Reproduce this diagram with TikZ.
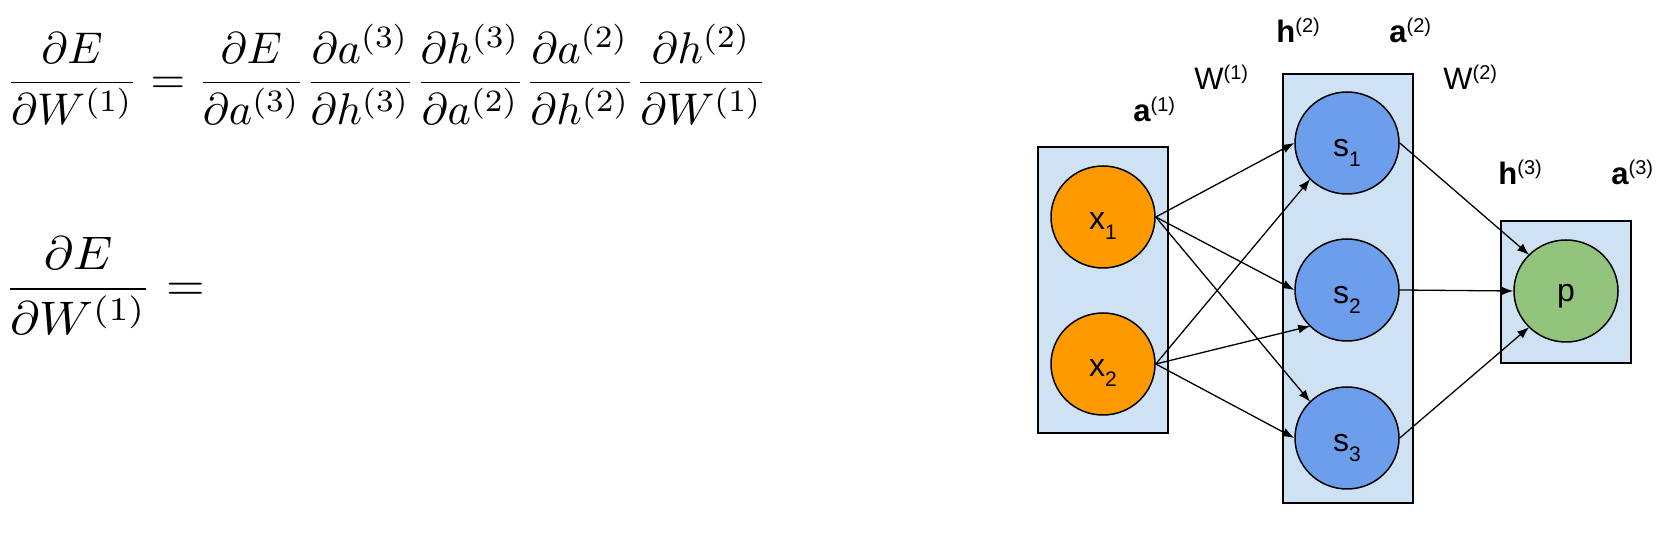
\documentclass[tikz,border=0pt]{standalone}
\usepackage{fontspec}
\newfontfamily\arialf{Liberation Sans}
\usetikzlibrary{shapes.geometric,arrows.meta,calc}
\definecolor{boxfill}{HTML}{CFE2F3}
\definecolor{inorange}{HTML}{FF9900}
\definecolor{hidblue}{HTML}{6D9EEB}
\definecolor{outgreen}{HTML}{93C47D}
\newcommand\lsup[1]{\raisebox{5pt}{\fontsize{10}{12}\selectfont #1}}
\newcommand\lsub[1]{\raisebox{-5pt}{\fontsize{10.5}{12}\selectfont #1}}
\newsavebox\eqtop
\newsavebox\eqbot
\begin{document}
\begin{tikzpicture}[x=0.5pt,y=-0.5pt,
  layerbox/.style={draw=black,line width=1pt,fill=boxfill,inner sep=0pt,minimum width=65pt},
  unit/.style={ellipse,draw=black,line width=0.75pt,minimum width=52pt,minimum height=51pt,inner sep=0pt},
  unitlabel/.style={anchor=base,inner sep=0pt,font=\arialf\fontsize{16}{19}\selectfont},
  layerlabel/.style={anchor=base west,inner sep=0pt,font=\arialf\fontsize{15.5}{18}\selectfont},
  conn/.style={line width=0.65pt,-{Latex[length=6pt,width=4.5pt]}},
  eq/.style={anchor=base west,inner sep=0pt}]
\useasboundingbox (0,0) rectangle (1665,533);
\sbox\eqtop{$\displaystyle \frac{\partial E}{\partial W^{(1)}} = \frac{\partial E}{\partial a^{(3)}}\frac{\partial a^{(3)}}{\partial h^{(3)}}\frac{\partial h^{(3)}}{\partial a^{(2)}}\frac{\partial a^{(2)}}{\partial h^{(2)}}\frac{\partial h^{(2)}}{\partial W^{(1)}}$}
\sbox\eqbot{$\displaystyle \frac{\partial E}{\partial W^{(1)}} =$}
\pgfmathsetmacro\eqsc{380.75/\the\wd\eqtop}
\pgfmathsetmacro\eqscx{\eqsc*1.12}
\pgfmathsetmacro\eqscy{\eqsc*1.06}
% equations
\node[eq] (eqA) at (5.5,93.5) {\scalebox{\eqsc}{\usebox\eqtop}};
\node[eq] (eqB) at (3.7,301) {\scalebox{\eqscx}[\eqscy]{\usebox\eqbot}};
% layer boxes
\node[layerbox,minimum height=143pt] (L1) at (1102.5,290) {};
\node[layerbox,minimum height=214.5pt] (L2) at (1348,288.5) {};
\node[layerbox,minimum height=71pt] (L3) at (1566,292) {};
% units
\node[unit,fill=inorange] (x1) at (1103,217) {};
\node[unit,fill=inorange] (x2) at (1103,364) {};
\node[unit,fill=hidblue] (s1) at (1347,143) {};
\node[unit,fill=hidblue] (s2) at (1347,290) {};
\node[unit,fill=hidblue] (s3) at (1347,438) {};
\node[unit,fill=outgreen] (p) at (1566,291) {};
% unit labels
\node[unitlabel] (tx1) at ($(x1)+(0,13)$) {x\lsub{1}};
\node[unitlabel] (tx2) at ($(x2)+(0,13)$) {x\lsub{2}};
\node[unitlabel] (ts1) at ($(s1)+(0,14)$) {s\lsub{1}};
\node[unitlabel] (ts2) at ($(s2)+(0,14)$) {s\lsub{2}};
\node[unitlabel] (ts3) at ($(s3)+(0,14)$) {s\lsub{3}};
\node[unitlabel] (tp) at ($(p)+(0,11)$) {p};
% connection points
\coordinate (s1sw) at ($(s1)+(-36.8,36.1)$);
\coordinate (s2sw) at ($(s2)+(-36.8,36.1)$);
\coordinate (s3nw) at ($(s3)+(-36.8,-36.1)$);
\coordinate (pnw) at ($(p)+(-36.8,-36.1)$);
\coordinate (psw) at ($(p)+(-36.8,36.1)$);
% connectors
\draw[conn] (x1.east) -- (s1.west);
\draw[conn] (x1.east) -- (s2.west);
\draw[conn] (x1.east) -- (s3nw);
\draw[conn] (x2.east) -- (s1sw);
\draw[conn] (x2.east) -- (s2sw);
\draw[conn] (x2.east) -- (s3.west);
\draw[conn] (s1.east) -- (pnw);
\draw[conn] (s2.east) -- (p.west);
\draw[conn] (s3.east) -- (psw);
% layer labels
\node[layerlabel] (la1) at (1133,122) {{\bfseries a}\lsup{(1)}};
\node[layerlabel] (lw1) at (1194,90) {W\lsup{(1)}};
\node[layerlabel] (lh2) at (1276,43) {{\bfseries h}\lsup{(2)}};
\node[layerlabel] (la2) at (1389,43) {{\bfseries a}\lsup{(2)}};
\node[layerlabel] (lw2) at (1443,90) {W\lsup{(2)}};
\node[layerlabel] (lh3) at (1498,185) {{\bfseries h}\lsup{(3)}};
\node[layerlabel] (la3) at (1611,185) {{\bfseries a}\lsup{(3)}};
\end{tikzpicture}
\end{document}
